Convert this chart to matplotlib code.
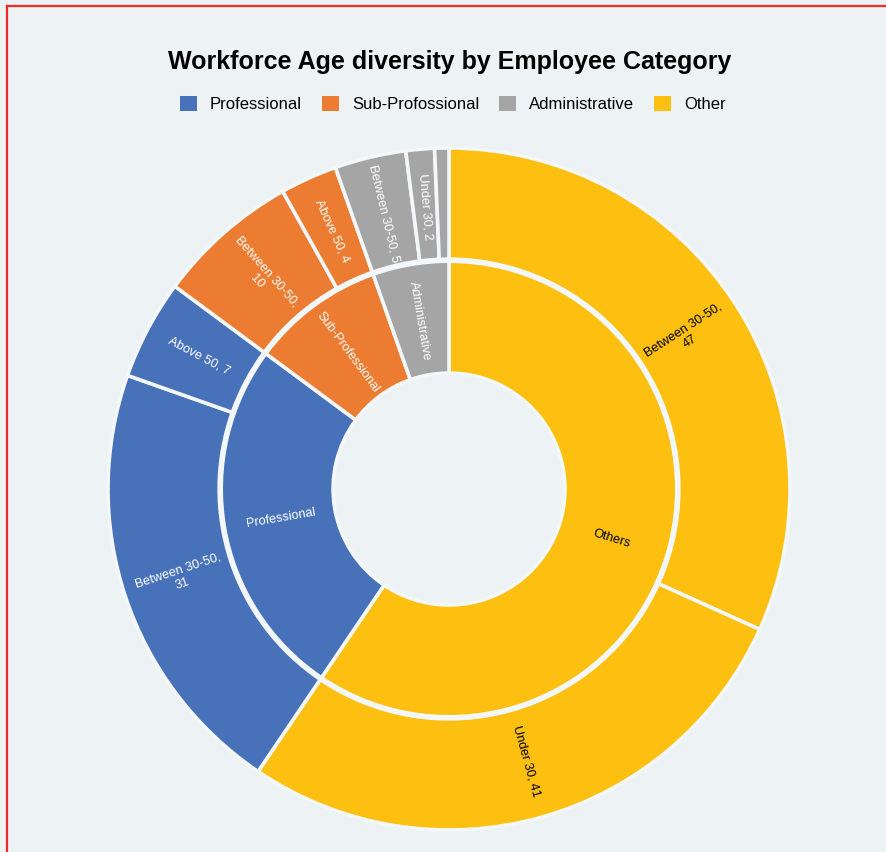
import matplotlib.pyplot as plt
from matplotlib.patches import Patch
import numpy as np

plt.rcParams["font.family"] = ["Liberation Sans", "DejaVu Sans"]

# inner ring, clockwise from 12 o'clock
categories = ["Others", "Professional", "Sub-Professional", "Administrative"]
category_colors = ["#FDC010", "#4771B8", "#EC7C32", "#A5A5A5"]

# outer ring, grouped by category in the same order
age_category = ["Others", "Others", "Professional", "Professional",
                "Sub-Professional", "Sub-Professional",
                "Administrative", "Administrative", "Administrative"]
age_groups = ["Between 30-50", "Under 30", "Between 30-50", "Above 50",
              "Between 30-50", "Above 50", "Between 30-50", "Under 30", "Above 50"]
age_counts = [47, 41, 31, 7, 10, 4, 5, 2, 1]
age_wrapped = [True, False, True, False, True, False, False, False, False]

legend_labels = ["Professional", "Sub-Profossional", "Administrative", "Other"]
legend_colors = ["#4771B8", "#EC7C32", "#A5A5A5", "#FDC010"]

category_totals = [sum(c for c, g in zip(age_counts, age_category) if g == cat) for cat in categories]
color_of = dict(zip(categories, category_colors))

W, H = 887, 852
cx, cy, R = 449, 489, 341  # pixel centre / outer radius

fig = plt.figure(figsize=(W / 100, H / 100), dpi=100)
fig.patch.set_facecolor("#edf2f5")

ax = fig.add_axes([0, 0, 1, 1])

edge = dict(edgecolor="#f4f7f9", linewidth=2.6)

inner, _ = ax.pie(category_totals, radius=0.668, startangle=90, counterclock=False,
                  colors=category_colors, wedgeprops=dict(width=0.328, **edge))
outer_colors = [color_of[c] for c in age_category]
outer, _ = ax.pie(age_counts, radius=1.0, startangle=90, counterclock=False,
                  colors=outer_colors, wedgeprops=dict(width=0.326, **edge))

ax.set_xlim(-cx / R, (W - cx) / R)
ax.set_ylim(-(H - cy) / R, cy / R)
ax.set_aspect("equal")
ax.axis("off")


def put_label(wedge, text, r, color):
    mid = (wedge.theta1 + wedge.theta2) / 2
    rot = (mid + 180) % 360 - 180
    if rot > 90:
        rot -= 180
    elif rot < -90:
        rot += 180
    x, y = r * np.cos(np.radians(mid)), r * np.sin(np.radians(mid))
    ax.text(x, y, text, rotation=rot, rotation_mode="anchor", ha="center", va="center",
            fontsize=9.2, color=color, multialignment="center")


for w, cat in zip(inner, categories):
    put_label(w, cat, 0.50, "black" if cat == "Others" else "white")

for w, grp, cnt, cat, wrap in zip(outer, age_groups, age_counts, age_category, age_wrapped):
    if cnt < 2:
        continue
    txt = f"{grp},\n{cnt}" if wrap else f"{grp}, {cnt}"
    put_label(w, txt, 0.83, "black" if cat == "Others" else "white")

fig.text(450 / W, 1 - 62 / H, "Workforce Age diversity by Employee Category",
         ha="center", va="center", fontsize=18, fontweight="bold")

handles = [Patch(facecolor=c, label=l) for c, l in zip(legend_colors, legend_labels)]
fig.legend(handles=handles, loc="center", bbox_to_anchor=(453 / W, 1 - 104 / H), ncol=4,
           frameon=False, fontsize=12, handlelength=1.0, handleheight=1.0,
           handletextpad=0.8, columnspacing=1.2)

# red frame of the screenshot
fig.add_artist(plt.Line2D([7 / W, 1], [1 - 6 / H, 1 - 6 / H], color="#ee2a2a", linewidth=1.6))
fig.add_artist(plt.Line2D([7 / W, 7 / W], [0, 1 - 6 / H], color="#ee2a2a", linewidth=1.6))

fig.savefig("out.png", dpi=100, facecolor=fig.get_facecolor())
